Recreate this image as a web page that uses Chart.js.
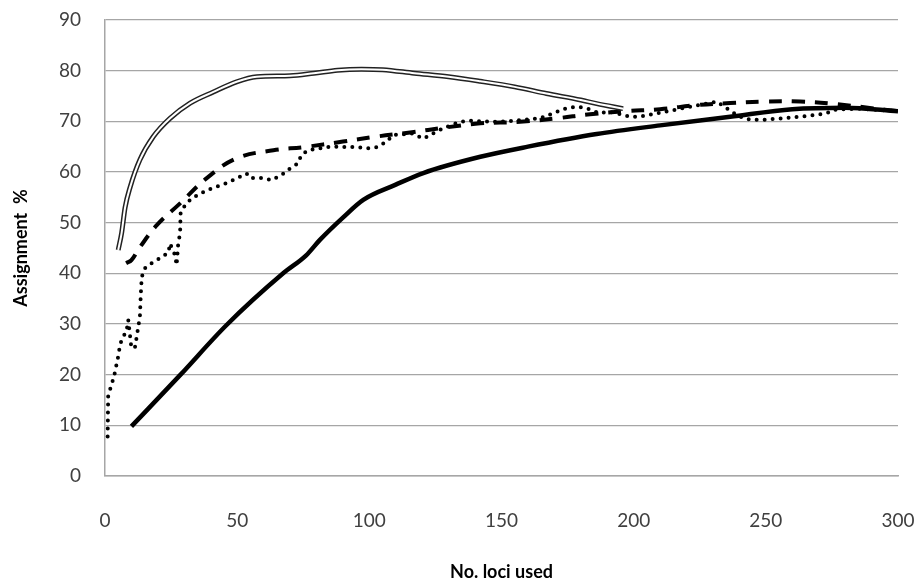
<!DOCTYPE html>
<html>
<head>
<meta charset="utf-8">
<script src="https://cdn.jsdelivr.net/npm/chart.js@4.4.1/dist/chart.umd.min.js"></script>
<style>
  html, body { margin: 0; padding: 0; background: #fff; }
  #wrap { width: 921px; height: 583px; }
</style>
</head>
<body>
<div id="wrap"><canvas id="lociChart"></canvas></div>
<script>
// Axis ticks
const xTicks = [0, 50, 100, 150, 200, 250, 300];
const yTicks = [0, 10, 20, 30, 40, 50, 60, 70, 80, 90];

// Double line series
const doubleX = [5, 6.3, 7.6, 9.5, 13.2, 18.3, 24.6, 32.2, 41, 49.8, 57.4, 70, 79, 88, 97, 105, 117, 130, 142, 155, 167, 180, 186, 196];
const doubleY = [44.6, 48, 53, 57, 62.4, 67, 70.6, 73.6, 75.8, 77.8, 78.8, 79, 79.5, 80.1, 80.3, 80.2, 79.5, 78.8, 77.9, 76.8, 75.5, 74.2, 73.5, 72.5];

// Solid line series
const solidX = [10, 28.4, 46, 67.4, 76, 81.3, 90, 97.7, 110, 120.4, 142, 160, 186, 210, 236.5, 260, 280, 300];
const solidY = [9.8, 19.9, 29.8, 40, 43.5, 46.6, 51, 54.5, 57.5, 59.8, 63, 65, 67.5, 69.2, 70.9, 72.4, 72.7, 72];

// Dashed line series
const dashedX = [8, 10, 13, 19.6, 28.4, 38.5, 49.8, 63.7, 75, 90, 102.8, 115.4, 129, 142, 157, 171, 183.5, 197, 210, 224, 236.5, 249, 263, 276.7, 290, 300];
const dashedY = [42, 42.6, 45, 49.5, 53.8, 58.8, 62.7, 64.3, 64.9, 66, 67, 67.8, 68.8, 69.6, 69.9, 70.6, 71.4, 72, 72.4, 73.2, 73.6, 73.9, 73.9, 73.4, 72.6, 72];

// Dotted line series
const dottedX = [1, 1.2, 2.2, 3.4, 5, 5.7, 6.3, 8.2, 8.8, 10, 11.4, 12, 12.6, 13.2, 13.5, 13.9, 15.1, 17.6, 20.8, 24, 24.6, 26.5, 27.1, 27.7, 28.4, 28.6, 30.3, 32.8, 38.5, 46, 53.6, 55, 60, 63, 66.8, 70, 73, 74.3, 77, 85, 95.7, 99.5, 103, 106.5, 109, 116, 120.5, 124, 127.9, 134, 138, 149.5, 164.6, 171, 174.6, 178.4, 182, 187, 191, 198.6, 201.6, 205, 216.8, 231.4, 238, 241.5, 245, 249, 256.8, 268, 273, 276, 285, 300];
const dottedY = [7.8, 15.7, 17.6, 19.6, 23.6, 25.9, 26.8, 28.8, 30.8, 25.2, 25.5, 27.5, 29.5, 31.4, 35.4, 39.3, 41, 42, 43, 44.1, 45.9, 43.6, 41.6, 45.9, 47.9, 51.8, 53.5, 54.8, 56.4, 57.8, 59.7, 58.8, 58.8, 58.4, 59.4, 60.7, 61.7, 63.4, 64.3, 65, 64.9, 64.7, 64.9, 66, 67.3, 67.6, 66.6, 67.6, 68.6, 69.9, 70.1, 69.9, 70.6, 71.9, 72.6, 72.9, 72.6, 71.6, 71.9, 70.9, 70.9, 71.2, 72.4, 73.9, 71.6, 70.6, 70.3, 70.3, 70.6, 71.2, 71.6, 72.3, 72.5, 72];

const toPoints = (xs, ys) => xs.map((x, i) => ({ x: x, y: ys[i] }));

const tickFont = { family: "Lato, 'Open Sans', sans-serif", size: 19 };
const titleFont = { family: "Lato, 'Open Sans', sans-serif", size: 18, weight: "bold" };

const ctx = document.getElementById("lociChart").getContext("2d");

new Chart(ctx, {
  type: "line",
  data: {
    datasets: [
      {
        label: "solid",
        data: toPoints(solidX, solidY),
        borderColor: "#000",
        borderWidth: 4.5,
        tension: 0.4,
        cubicInterpolationMode: "monotone",
        order: 3,
      },
      {
        label: "dashed",
        data: toPoints(dashedX, dashedY),
        borderColor: "#000",
        borderWidth: 4,
        borderDash: [13, 10],
        tension: 0.4,
        order: 3,
      },
      {
        label: "dotted",
        data: toPoints(dottedX, dottedY),
        borderColor: "#000",
        borderWidth: 4,
        borderDash: [0, 8],
        borderCapStyle: "round",
        tension: 0,
        order: 3,
      },
      {
        // outer black stroke of the double line
        label: "double",
        data: toPoints(doubleX, doubleY),
        borderColor: "#222",
        borderWidth: 5,
        tension: 0.4,
        cubicInterpolationMode: "monotone",
        order: 2,
      },
      {
        // white core of the double line
        label: "double core",
        data: toPoints(doubleX, doubleY),
        borderColor: "#fff",
        borderWidth: 2,
        tension: 0.4,
        cubicInterpolationMode: "monotone",
        order: 1,
      },
    ],
  },
  options: {
    responsive: true,
    maintainAspectRatio: false,
    animation: false,
    elements: { point: { radius: 0 } },
    layout: { padding: { top: 20, right: 23, left: 0, bottom: 0 } },
    plugins: {
      legend: { display: false },
      tooltip: { enabled: false },
    },
    scales: {
      x: {
        type: "linear",
        min: 0,
        max: 300,
        afterBuildTicks: (scale) => { scale.ticks = xTicks.map((v) => ({ value: v })); },
        afterFit: (scale) => { scale.height = 107; scale.paddingLeft = 0; scale.paddingRight = 0; },
        grid: { display: false },
        border: { color: "#a6a6a6", width: 1.5 },
        ticks: { color: "#404040", font: tickFont, padding: 25 },
        title: { display: true, text: "No. loci used", color: "#000", font: titleFont, padding: { top: 22, bottom: 0 } },
      },
      y: {
        min: 0,
        max: 90,
        afterBuildTicks: (scale) => { scale.ticks = yTicks.map((v) => ({ value: v })); },
        afterFit: (scale) => { scale.width = 105; scale.paddingTop = 0; scale.paddingBottom = 0; },
        grid: { color: "#a6a6a6", lineWidth: 1.3, drawTicks: false },
        border: { color: "#a6a6a6", width: 1.5 },
        ticks: { color: "#404040", font: tickFont, padding: 24 },
        title: { display: true, text: "Assignment  %", color: "#000", font: titleFont, padding: { top: 10, bottom: 4 } },
      },
    },
  },
});
</script>
</body>
</html>
